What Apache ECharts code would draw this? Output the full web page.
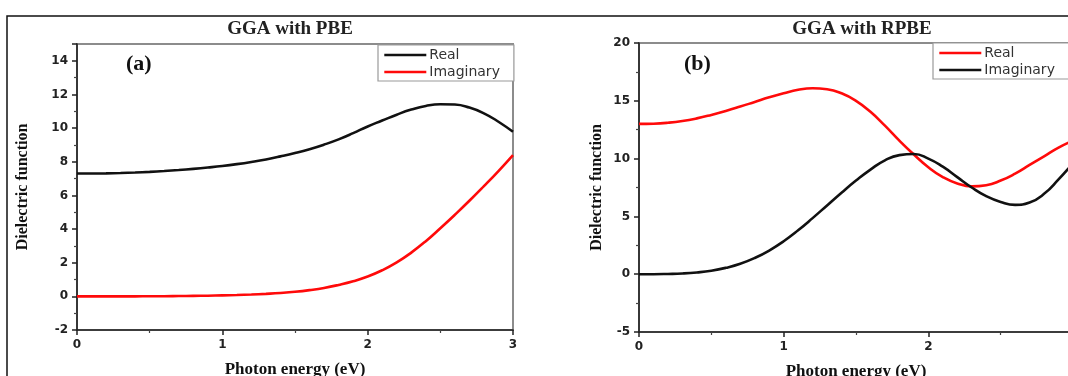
<!DOCTYPE html>
<html>
<head>
<meta charset="utf-8">
<title>Dielectric function</title>
<script src="https://cdn.jsdelivr.net/npm/echarts@6/dist/echarts.min.js"></script>
<style>
  html, body { margin: 0; padding: 0; background: #fff; overflow: hidden; }
  #chart { width: 1068px; height: 376px; }
</style>
</head>
<body>
<div id="chart"></div>
<script>
// photon energy (eV), shared by all four curves
const energy = [0, 0.1, 0.2, 0.3, 0.4, 0.5, 0.6, 0.7, 0.8, 0.9, 1.0, 1.1, 1.2, 1.3, 1.4, 1.5,
  1.6, 1.7, 1.8, 1.9, 2.0, 2.1, 2.2, 2.3, 2.4, 2.5, 2.6, 2.7, 2.8, 2.9, 3.0]

// (a) GGA with PBE
const pbeReal = [7.30, 7.30, 7.31, 7.33, 7.36, 7.40, 7.45, 7.51, 7.58, 7.66, 7.75, 7.86, 7.99, 8.14, 8.32, 8.52,
  8.75, 9.02, 9.33, 9.70, 10.10, 10.45, 10.80, 11.10, 11.32, 11.42, 11.40, 11.22, 10.88, 10.38, 9.78]
const pbeImag = [0.00, 0.00, 0.00, 0.00, 0.00, 0.01, 0.01, 0.02, 0.03, 0.04, 0.06, 0.08, 0.11, 0.15, 0.20, 0.27,
  0.37, 0.50, 0.68, 0.90, 1.18, 1.55, 2.02, 2.60, 3.28, 4.05, 4.85, 5.68, 6.55, 7.45, 8.40]

// (b) GGA with RPBE
const rpbeReal = [13.00, 13.02, 13.10, 13.25, 13.48, 13.78, 14.12, 14.50, 14.90, 15.30, 15.65, 15.95, 16.08, 16.00, 15.65, 15.00,
  14.05, 12.85, 11.55, 10.35, 9.25, 8.40, 7.85, 7.60, 7.70, 8.10, 8.70, 9.45, 10.20, 10.95, 11.55]
const rpbeImag = [0.00, 0.00, 0.02, 0.06, 0.15, 0.30, 0.55, 0.90, 1.40, 2.05, 2.85, 3.80, 4.85, 5.95, 7.05, 8.10,
  9.05, 9.85, 10.30, 10.40, 10.00, 9.30, 8.40, 7.50, 6.75, 6.25, 6.00, 6.20, 6.95, 8.20, 9.60]

const panelTitles = ['GGA with PBE', 'GGA with RPBE']
const panelTags = ['(a)', '(b)']
const xName = 'Photon energy (eV)'
const yName = 'Dielectric function'

const BLACK = '#111111'
const RED = '#ff0a0a'
const serif = '"Liberation Serif", "Times New Roman", serif'
const sans = '"DejaVu Sans", Arial, sans-serif'

const pairs = (ys) => energy.map((x, i) => [x, ys[i]])

function xAxisOf(gridIndex) {
  return {
    type: 'value',
    gridIndex,
    min: 0,
    max: 3,
    interval: 1,
    name: xName,
    nameLocation: 'middle',
    nameGap: 31,
    nameTextStyle: { fontFamily: serif, fontWeight: 'bold', fontSize: 17, color: '#111' },
    axisLine: { show: true, onZero: false, lineStyle: { color: '#222', width: 1.6 } },
    axisTick: { show: true, inside: false, length: 5, lineStyle: { color: '#222', width: 1.5 } },
    minorTick: { show: true, splitNumber: 2, length: 3, lineStyle: { color: '#444', width: 1.2 } },
    axisLabel: { margin: 9, fontFamily: sans, fontWeight: 'bold', fontSize: 12, color: '#222' },
    splitLine: { show: false },
  }
}

function yAxisOf(gridIndex, min, max, interval, nameGap) {
  return {
    type: 'value',
    gridIndex,
    min,
    max,
    interval,
    name: yName,
    nameLocation: 'middle',
    nameGap,
    nameTextStyle: { fontFamily: serif, fontWeight: 'bold', fontSize: 16, color: '#111' },
    axisLine: { show: true, onZero: false, lineStyle: { color: '#222', width: 1.6 } },
    axisTick: { show: true, inside: false, length: 5, lineStyle: { color: '#222', width: 1.5 } },
    minorTick: { show: true, splitNumber: 2, length: 3, lineStyle: { color: '#444', width: 1.2 } },
    axisLabel: {
      margin: 9, fontFamily: sans, fontWeight: 'bold', fontSize: 12, color: '#222',
      showMaxLabel: (max - min) % interval === 0,
    },
    splitLine: { show: false },
  }
}

function lineSeries(name, ys, color, idx) {
  return {
    name,
    type: 'line',
    xAxisIndex: idx,
    yAxisIndex: idx,
    data: pairs(ys),
    smooth: true,
    showSymbol: false,
    symbol: 'none',
    lineStyle: { color, width: 2.6 },
    itemStyle: { color },
    z: 3,
  }
}

function legendOf(left, top, firstColor, secondColor) {
  return {
    left,
    top,
    orient: 'vertical',
    itemWidth: 42,
    itemHeight: 12,
    itemGap: 3,
    padding: [3, 14, 2, 5],
    borderColor: '#9a9a9a',
    borderWidth: 1.2,
    backgroundColor: '#fff',
    selectedMode: false,
    textStyle: { fontFamily: sans, fontSize: 14, color: '#333', padding: [0, 0, 0, -2] },
    data: [
      { name: 'Real', itemStyle: { color: firstColor, opacity: 0 },
        lineStyle: { color: firstColor, width: 2.6, opacity: 1 } },
      { name: 'Imaginary', itemStyle: { color: secondColor, opacity: 0 },
        lineStyle: { color: secondColor, width: 2.6, opacity: 1 } },
    ],
  }
}

const chart = echarts.init(document.getElementById('chart'))

chart.setOption({
  backgroundColor: '#fff',
  animation: false,
  title: [
    { text: panelTitles[0], left: 285, top: 15, textAlign: 'center',
      textStyle: { fontFamily: serif, fontWeight: 'bold', fontSize: 19, color: '#222' } },
    { text: panelTitles[1], left: 857, top: 15, textAlign: 'center',
      textStyle: { fontFamily: serif, fontWeight: 'bold', fontSize: 19, color: '#222' } },
  ],
  grid: [
    { left: 77, right: 555, top: 44, bottom: 46, outerBoundsMode: 'none',
      show: true, borderColor: '#8c8c8c', borderWidth: 2 },
    { left: 639, right: -5, top: 43, bottom: 44, outerBoundsMode: 'none',
      show: true, borderColor: '#8c8c8c', borderWidth: 2 },
  ],
  legend: [
    legendOf(378, 45, BLACK, RED),
    legendOf(933, 43, RED, BLACK),
  ],
  xAxis: [xAxisOf(0), xAxisOf(1)],
  yAxis: [yAxisOf(0, -2, 15, 2, 46), yAxisOf(1, -5, 20, 5, 34)],
  series: [
    lineSeries('Real', pbeReal, BLACK, 0),
    lineSeries('Imaginary', pbeImag, RED, 0),
    lineSeries('Real', rpbeReal, RED, 1),
    lineSeries('Imaginary', rpbeImag, BLACK, 1),
  ],
  graphic: [
    // outer figure frame (top and left edges visible)
    { type: 'rect', shape: { x: 7, y: 16, width: 1080, height: 400 },
      style: { fill: 'none', stroke: '#111', lineWidth: 1.5 }, silent: true },
    { type: 'text', left: 126, top: 53,
      style: { text: panelTags[0], font: 'bold 22px ' + serif, fill: '#111' } },
    { type: 'text', left: 684, top: 53,
      style: { text: panelTags[1], font: 'bold 22px ' + serif, fill: '#111' } },
  ],
})
</script>
</body>
</html>
